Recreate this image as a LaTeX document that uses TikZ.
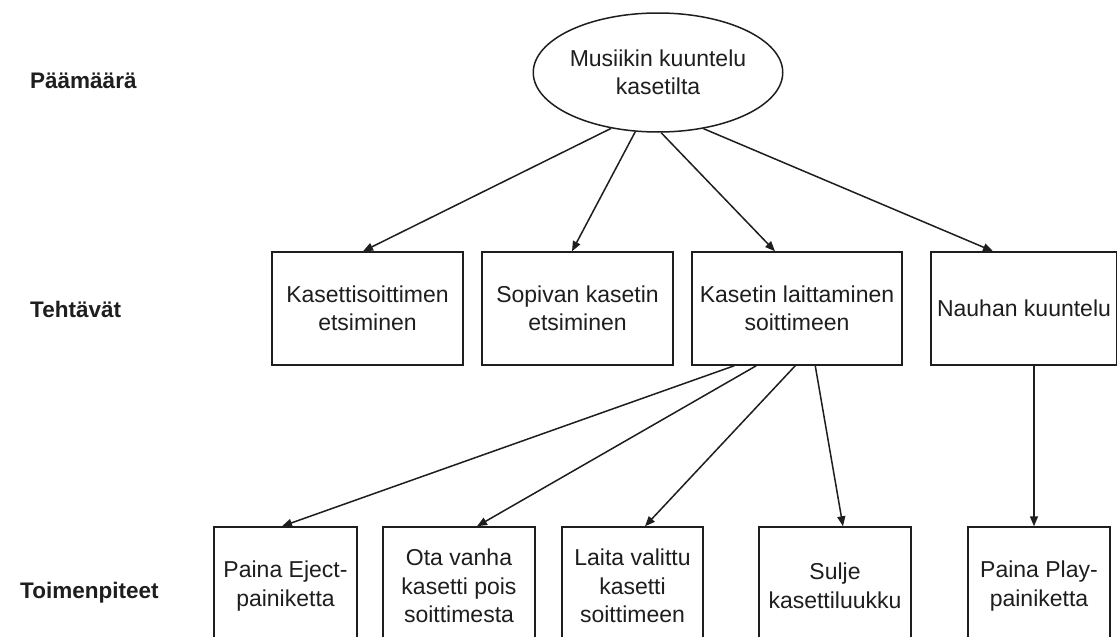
\documentclass[tikz,border=0pt]{standalone}
\usepackage{fontspec}
\setmainfont{Liberation Sans}
\usetikzlibrary{arrows.meta,shapes.geometric}
\definecolor{ink}{HTML}{1E1E1E}
\begin{document}
\begin{tikzpicture}[x=1pt,y=-1pt,
  every node/.style={text=ink},
  boxtext/.style={font=\fontsize{23}{28.5}\selectfont, align=center},
  taskbox/.style={boxtext, draw=ink, line width=1.5pt, rectangle, inner sep=0pt, minimum height=113pt},
  actbox/.style={boxtext, draw=ink, line width=1.5pt, rectangle, inner sep=0pt, minimum height=118pt},
  goalnode/.style={boxtext, draw=ink, line width=1.5pt, ellipse, inner sep=0pt, minimum width=220pt, minimum height=119pt},
  levellabel/.style={font=\fontsize{22.5}{26}\selectfont\bfseries, anchor=base west, inner sep=0pt},
  conn/.style={draw=ink, line width=1.5pt, -{Triangle[length=10pt,width=8pt]}}
]
\useasboundingbox (0,0) rectangle (1117,637);
\fill[white] (0,0) rectangle (1117,637);

% level labels
\node[levellabel] (lgoal) at (30,88) {Päämäärä};
\node[levellabel] (ltask) at (30,317) {Tehtävät};
\node[levellabel] (lact) at (20,598) {Toimenpiteet};

% goal
\node[goalnode] (goal) at (658,72.5) {Musiikin kuuntelu\\kasetilta};

% tasks
\node[taskbox, minimum width=191pt] (t1) at (367.5,308.5) {Kasettisoittimen\\etsiminen};
\node[taskbox, minimum width=191pt] (t2) at (577.5,308.5) {Sopivan kasetin\\etsiminen};
\node[taskbox, minimum width=210pt] (t3) at (797,308.5) {Kasetin laittaminen\\soittimeen};
\node[taskbox, minimum width=186pt] (t4) at (1024,308.5) {Nauhan kuuntelu};

% actions
\node[actbox, minimum width=143pt] (a1) at (285.5,586) {Paina Eject-\\painiketta};
\node[actbox, minimum width=152pt] (a2) at (459,586) {Ota vanha\\kasetti pois\\soittimesta};
\node[actbox, minimum width=141pt] (a3) at (632.5,586) {Laita valittu\\kasetti\\soittimeen};
\node[actbox, minimum width=152pt] (a4) at (835,586) {Sulje\\kasettiluukku};
\node[actbox, minimum width=142pt] (a5) at (1039,586) {Paina Play-\\painiketta};

% goal -> tasks
\draw[conn] (goal.230.3) -- ([xshift=-4.5pt]t1.north);
\draw[conn] (goal.249.4) -- ([xshift=-5.5pt]t2.north);
\draw[conn] (goal.273.8) -- ([xshift=-22pt]t3.north);
\draw[conn] (goal.309.1) -- ([xshift=-31pt]t4.north);

% tasks -> actions
\draw[conn] ([xshift=43pt]t3.south west) -- ([xshift=-3.5pt]a1.north);
\draw[conn] ([xshift=65pt]t3.south west) -- ([xshift=18pt]a2.north);
\draw[conn] ([xshift=104pt]t3.south west) -- ([xshift=12.5pt]a3.north);
\draw[conn] ([xshift=124pt]t3.south west) -- ([xshift=8pt]a4.north);
\draw[conn] ([xshift=10pt]t4.south) -- ([xshift=-5pt]a5.north);
\end{tikzpicture}
\end{document}
